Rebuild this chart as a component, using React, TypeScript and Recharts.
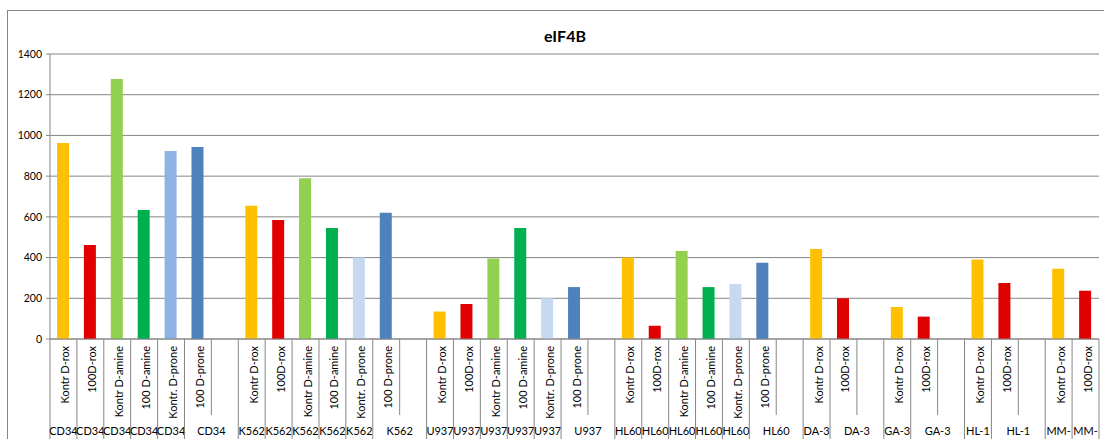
import { BarChart, Bar, Cell, XAxis, YAxis, CartesianGrid } from "recharts";

const CHART_W = 1104;
const CHART_H = 439;
const PLOT_LEFT = 50;
const PLOT_RIGHT = 5;
const PLOT_TOP = 54;
const AXIS_Y = 339;
const FONT = "Lato, 'Liberation Sans', sans-serif";
const INK = "#868686";

const groups = ["CD34", "K562", "U937", "HL60", "DA-3", "GA-3", "HL-1", "MM-"];
const treatments = ["Kontr D-rox", "100D-rox", "Kontr D-amine", "100 D-amine", "Kontr. D-prone", "100 D-prone"];

const cd34 = [963, 462, 1277, 634, 923, 943];
const k562 = [655, 585, 790, 545, 400, 620];
const u937 = [135, 172, 395, 545, 200, 255];
const hl60 = [400, 65, 432, 255, 270, 375];
const da3 = [442, 200];
const ga3 = [157, 110];
const hl1 = [390, 275];
const mm = [345, 237];

const yTicks = [0, 200, 400, 600, 800, 1000, 1200, 1400];

const treatmentColors: Record<string, string> = {
  "Kontr D-rox": "#FFC000",
  "100D-rox": "#E00000",
  "Kontr D-amine": "#92D050",
  "100 D-amine": "#00B050",
  "Kontr. D-prone": "#C6D9F1",
  "100 D-prone": "#4F81BD",
};

type Row = { key: string; label: string; group: string; value: number | null; color: string };

const groupValues = [cd34, k562, u937, hl60, da3, ga3, hl1, mm];

const rows: Row[] = [];
groups.forEach((g, gi) => {
  const vals = groupValues[gi];
  vals.forEach((v, ti) => {
    const label = treatments[ti];
    let color = treatmentColors[label];
    if (g === "CD34" && label === "Kontr. D-prone") color = "#8DB3E2";
    rows.push({ key: `${g}-${ti}`, label, group: g, value: v, color });
  });
  // empty slot closes each group except the last one
  if (gi < groups.length - 1) rows.push({ key: `${g}-gap`, label: "", group: g, value: null, color: "none" });
});

const BAND = (CHART_W - PLOT_LEFT - PLOT_RIGHT) / rows.length;

function CategoryTick(props: any) {
  const { x, index } = props;
  const row = rows[index];
  if (!row) return null;
  const left = x - BAND / 2;
  const isGap = row.label === "";
  const nextGap = rows[index + 1]?.label === "";
  const isLast = index === rows.length - 1;
  const groupX = nextGap ? x + BAND / 2 : x;
  return (
    <g>
      <line x1={left} x2={left} y1={AXIS_Y} y2={isGap ? 415 : CHART_H} stroke={INK} strokeWidth={1} />
      {isLast && (
        <line x1={left + BAND} x2={left + BAND} y1={AXIS_Y} y2={CHART_H} stroke={INK} strokeWidth={1} />
      )}
      {!isGap && (
        <text
          x={x + 1.5}
          y={346}
          transform={`rotate(-90 ${x + 1.5} 346)`}
          textAnchor="end"
          dominantBaseline="central"
          fontSize={11}
          fontFamily={FONT}
          fill="#000"
        >
          {row.label}
        </text>
      )}
      {!isGap && (
        <text x={groupX} y={435} textAnchor="middle" fontSize={11} fontFamily={FONT} fill="#000">
          {row.group}
        </text>
      )}
    </g>
  );
}

export default function App() {
  return (
    <div style={{ position: "absolute", left: 0, top: 0, width: CHART_W, height: CHART_H, overflow: "hidden", background: "#fff" }}>
      <div
        style={{
          position: "absolute",
          left: 7,
          top: 10,
          width: CHART_W + 20,
          height: CHART_H + 20,
          border: `1px solid ${INK}`,
        }}
      />
      <div
        style={{
          position: "absolute",
          left: 0,
          top: 26,
          width: CHART_W + 26,
          textAlign: "center",
          fontFamily: FONT,
          fontWeight: 700,
          fontSize: 16,
          color: "#000",
        }}
      >
        eIF4B
      </div>
      <BarChart
        width={CHART_W}
        height={CHART_H}
        data={rows}
        margin={{ top: PLOT_TOP, right: PLOT_RIGHT, left: 8, bottom: 0 }}
        barSize={12}
        style={{ position: "absolute", left: 0, top: 0 }}
      >
        <CartesianGrid vertical={false} stroke={INK} />
        <XAxis
          dataKey="key"
          interval={0}
          height={CHART_H - AXIS_Y}
          tickLine={false}
          axisLine={{ stroke: INK }}
          tick={<CategoryTick />}
        />
        <YAxis
          width={42}
          domain={[0, 1400]}
          ticks={yTicks}
          interval={0}
          tickSize={4}
          tickMargin={4}
          tickLine={{ stroke: INK }}
          axisLine={{ stroke: INK }}
          tick={{ fill: "#000", fontSize: 10.5, fontFamily: FONT }}
        />
        <Bar dataKey="value" barSize={12} isAnimationActive={false}>
          {rows.map((r) => (
            <Cell key={r.key} fill={r.color} />
          ))}
        </Bar>
      </BarChart>
    </div>
  );
}
